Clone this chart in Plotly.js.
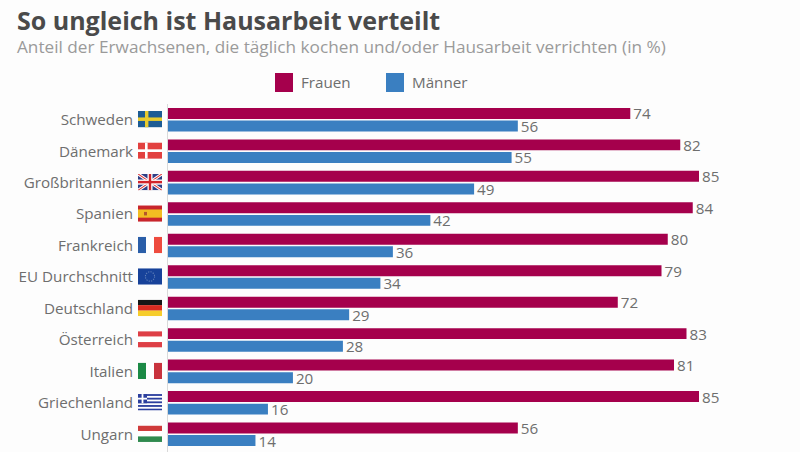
<!DOCTYPE html>
<html><head><meta charset="utf-8">
<script src="https://cdn.plot.ly/plotly-3.0.1.min.js"></script>
<style>html,body{margin:0;padding:0;background:#fdfdfd;overflow:hidden}#c{width:800px;height:452px}</style>
</head><body><div id="c"></div>
<script>
const countries = ["Schweden","Dänemark","Großbritannien","Spanien","Frankreich","EU Durchschnitt","Deutschland","Österreich","Italien","Griechenland","Ungarn"];
const frauen = [74,82,85,84,80,79,72,83,81,85,56];
const maenner = [56,55,49,42,36,34,29,28,20,16,14];
const seriesNames = ["Frauen","Männer"];
const colors = ["#a5004c","#3a7fc1"];
const titleText = "So ungleich ist Hausarbeit verteilt";
const subtitleText = "Anteil der Erwachsenen, die täglich kochen und/oder Hausarbeit verrichten (in %)";

const vStripes = (a,b,c)=>`<rect width="8" height="16" fill="${a}"/><rect x="8" width="8" height="16" fill="${b}"/><rect x="16" width="8" height="16" fill="${c}"/>`;
const hStripes = (a,b,c)=>`<rect width="24" height="5.4" fill="${a}"/><rect y="5.3" width="24" height="5.4" fill="${b}"/><rect y="10.6" width="24" height="5.4" fill="${c}"/>`;
const greek = (()=>{let s='<rect width="24" height="16" fill="#2b3f9e"/>';for(let i=1;i<9;i+=2)s+=`<rect y="${i*1.78}" width="24" height="1.78" fill="#fff"/>`;
  return s+'<rect width="9" height="8.9" fill="#2b3f9e"/><rect x="3.6" width="1.8" height="8.9" fill="#fff"/><rect y="3.55" width="9" height="1.8" fill="#fff"/>';})();
const flags = {
 "Schweden":'<rect width="24" height="16" fill="#1d5c94"/><rect x="7" width="3.4" height="16" fill="#e8cb2e"/><rect y="6.3" width="24" height="3.4" fill="#e8cb2e"/>',
 "Dänemark":'<rect width="24" height="16" fill="#e2403f"/><rect x="7" width="2.6" height="16" fill="#fff"/><rect y="6.7" width="24" height="2.6" fill="#fff"/>',
 "Großbritannien":'<rect width="24" height="16" fill="#2f3f86"/><path d="M0 0L24 16M24 0L0 16" stroke="#fff" stroke-width="3"/><path d="M0 0L24 16M24 0L0 16" stroke="#d33" stroke-width="1"/><rect x="9.5" width="5" height="16" fill="#fff"/><rect y="5.5" width="24" height="5" fill="#fff"/><rect x="10.8" width="2.4" height="16" fill="#d2232a"/><rect y="6.8" width="24" height="2.4" fill="#d2232a"/>',
 "Spanien":'<rect width="24" height="16" fill="#c8252c"/><rect y="4" width="24" height="8" fill="#f2bd22"/><rect x="6" y="6.4" width="3" height="3.4" fill="#b5572a"/>',
 "Frankreich":vStripes("#2a5ea8","#fff","#ee4b3e"),
 "EU Durchschnitt":'<rect width="24" height="16" fill="#17429a"/><circle cx="12" cy="8" r="4.6" fill="none" stroke="#5f7fb8" stroke-width="1.1" stroke-dasharray="1.2 1.2"/>',
 "Deutschland":hStripes("#161616","#d92b20","#f6cd2c"),
 "Österreich":hStripes("#de3f46","#fff","#de3f46"),
 "Italien":vStripes("#1c8a46","#fff","#c9333e"),
 "Griechenland":greek,
 "Ungarn":hStripes("#cf3a3a","#fff","#2f8a4e")
};
const flagSrc = n => "data:image/svg+xml;base64," + btoa(`<svg xmlns="http://www.w3.org/2000/svg" width="96" height="64" viewBox="0 0 24 16">${flags[n]}</svg>`);

const W=800,H=452,top0=104,bottom0=2;
const plotH=H-top0-bottom0, pitch=plotH/countries.length;
const textFont={family:"Open Sans, sans-serif",size:15.2,color:"#6e6e6e"};
const mk=(name,x,color)=>({type:"bar",orientation:"h",name,x,y:countries,marker:{color},
  text:x.map(String),textposition:"outside",constraintext:"none",cliponaxis:false,textfont:textFont,hoverinfo:"x+y"});

const py=y=>1-(y-top0)/plotH;
const layout={
 width:W,height:H,paper_bgcolor:"#fdfdfd",plot_bgcolor:"#fdfdfd",showlegend:false,
 margin:{l:168,r:0,t:top0,b:bottom0,pad:0},
 barmode:"group",bargap:0.2,bargroupgap:0.13,
 title:{text:"<b>"+titleText+"</b>",x:17/W,xanchor:"left",y:1-21/H,yanchor:"middle",font:{family:"Open Sans, sans-serif",size:25,color:"#4a4a4a"}},
 xaxis:{range:[0,632/6.247],showgrid:false,zeroline:false,showticklabels:false,ticks:"",showline:false,fixedrange:true},
 yaxis:{type:"category",categoryorder:"array",categoryarray:countries,range:[10.5,-0.5],showgrid:false,zeroline:false,
  ticks:"",showline:false,ticklabelstandoff:34,tickfont:textFont,fixedrange:true,automargin:false},
 annotations:[
  {text:subtitleText,xref:"paper",yref:"paper",x:(15-168)/632,y:py(46),xanchor:"left",yanchor:"middle",showarrow:false,font:{family:"Open Sans, sans-serif",size:17.2,color:"#9a9a9a"}},
  {text:seriesNames[0],xref:"paper",yref:"paper",x:(299-168)/632,y:py(82),xanchor:"left",yanchor:"middle",showarrow:false,font:textFont},
  {text:seriesNames[1],xref:"paper",yref:"paper",x:(410-168)/632,y:py(82),xanchor:"left",yanchor:"middle",showarrow:false,font:textFont}
 ],
 shapes:[[275,colors[0]],[386,colors[1]]].map(([x,c])=>({type:"rect",xref:"paper",yref:"paper",
   x0:(x-168)/632,x1:(x+18-168)/632,y0:py(73),y1:py(92),fillcolor:c,line:{width:0}})).concat([
   {type:"line",xref:"paper",yref:"paper",x0:-0.5/632,x1:-0.5/632,y0:py(104),y1:py(452),line:{color:"#d9d9d9",width:1},layer:"below"}]),
 images:countries.map((n,i)=>({source:flagSrc(n),xref:"paper",yref:"paper",
   x:(138-168)/632,y:py(top0+pitch*i+7),sizex:24/632,sizey:16.4/plotH,xanchor:"left",yanchor:"top",sizing:"stretch",layer:"above"})),
 font:{family:"Open Sans, sans-serif"}
};
Plotly.newPlot("c",[mk(seriesNames[0],frauen,colors[0]),mk(seriesNames[1],maenner,colors[1])],layout,{displayModeBar:false,staticPlot:true});
</script></body></html>
